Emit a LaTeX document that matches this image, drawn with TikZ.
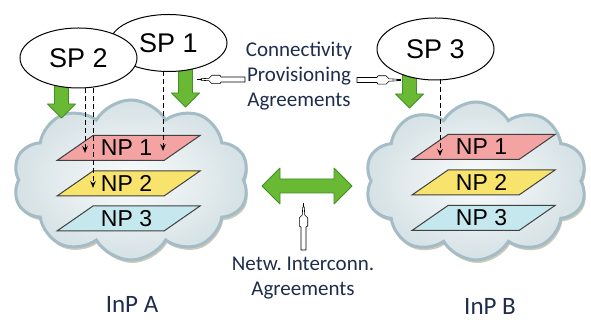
\documentclass[tikz,border=0pt]{standalone}
\usepackage{fontspec}
\newfontfamily\arialf{Liberation Sans}
\newfontfamily\calif{Carlito}
\usetikzlibrary{shapes.symbols,shapes.geometric,shadows,calc,arrows.meta}

\definecolor{npred}{HTML}{F4A3A3}
\definecolor{npyellow}{HTML}{F8E36C}
\definecolor{npblue}{HTML}{C5E8EE}
\definecolor{gfill}{HTML}{69B935}
\definecolor{gedge}{HTML}{3F8F22}
\definecolor{cloudrim}{HTML}{A3BCC6}
\definecolor{cloudin}{HTML}{FAFCFC}
\definecolor{cloudout}{HTML}{D5E1E5}
\definecolor{labeltext}{HTML}{1F2D4D}

\tikzset{
  cloudbox/.style={cloud, cloud puffs=10, cloud puff arc=120, cloud ignores aspect,
    inner sep=0pt, draw=cloudrim, line width=3pt,
    inner color=cloudin, outer color=cloudout,
    drop shadow={shadow xshift=1.5pt, shadow yshift=-3pt, fill=gray!70!olive, opacity=0.45}},
  spbox/.style={ellipse, draw=black, line width=1pt, fill=white, inner sep=0pt,
    minimum width=116pt, minimum height=58pt, font=\arialf\fontsize{27}{30}\selectfont},
  npline/.style={draw=black!75, line width=1pt},
  nplabel/.style={inner sep=0pt, font=\arialf\fontsize{23}{26}\selectfont},
  blocklook/.style={fill=gfill, draw=gedge, line width=0.8pt, line join=round},
  dasharrow/.style={line width=1pt, dash pattern=on 5pt off 3pt,
    -{Stealth[length=7pt,width=5.5pt]}},
  labelfont/.style={text=labeltext, align=center, inner sep=0pt,
    font=\calif\fontsize{21}{25}\selectfont},
  inpfont/.style={text=labeltext, inner sep=0pt, font=\calif\fontsize{25}{28}\selectfont},
  % green block arrow pointing along +x, tip at the origin
  pics/blockarrow/.style={code={
    \path[blocklook] (-#1,-7) -- (-14,-7) -- (-14,-14) -- (0,0) -- (-14,14)
      -- (-14,7) -- (-#1,7) -- cycle;}},
  % thin hollow arrow pointing along +x, tip at the origin
  pics/hollowarrow/.style={code={
    \path[draw=black, fill=white, line width=0.6pt, line join=round]
      (-#1,-2.5) -- (-24,-2.5) -- (-23,-4.2) -- (-15,-4.2) -- (-12,-1.2)
      -- (-4,-0.8) -- (-4,0.8) -- (-12,1.2) -- (-15,4.2) -- (-23,4.2)
      -- (-24,2.5) -- (-#1,2.5) -- cycle;
    \draw[line width=1.4pt] (-4.5,0) -- (0,0);}}
}

% parallelogram plane with its label: name, centre, fill colour, text
\newcommand\npplane[4]{%
  \coordinate (#1c) at #2;
  \draw[npline, fill=#3] ($(#1c)+(-71.5,12.5)$) -- ++(107,0) -- ++(36,-25)
    -- ++(-107,0) -- cycle;
  \node[nplabel] (#1) at ($(#1c)+(-2,0)$) {#4};
}

\begin{document}
\frenchspacing
\begin{tikzpicture}[x=1pt, y=-1pt]
\useasboundingbox[fill=white] (0,0) rectangle (591,320);

% infrastructure provider clouds
\node[cloudbox, minimum width=236pt, minimum height=160pt] (cloudA) at (131,180) {};
\node[cloudbox, minimum width=222pt, minimum height=158pt] (cloudB) at (476,181) {};

% network provider planes
\npplane{a1}{(128.5,148)}{npred}{NP 1}
\npplane{a2}{(128.5,183.5)}{npyellow}{NP 2}
\npplane{a3}{(128.5,218.5)}{npblue}{NP 3}
\npplane{b1}{(483.5,147)}{npred}{NP 1}
\npplane{b2}{(483.5,182.5)}{npyellow}{NP 2}
\npplane{b3}{(483.5,218)}{npblue}{NP 3}

% green provisioning arrows (tops hidden under the ellipses)
\coordinate (g2tip) at (61.5,118);
\coordinate (g1tip) at (185.5,107);
\coordinate (g3tip) at (409.5,108);
\pic[rotate=-90] at (g2tip) {blockarrow=40};
\pic[rotate=-90] at (g1tip) {blockarrow=42};
\pic[rotate=-90] at (g3tip) {blockarrow=34};

% service providers
\node[spbox, minimum width=117pt, minimum height=57pt] (sp1) at (168.5,43) {SP 1};
\node[spbox, minimum width=117pt, minimum height=60pt] (sp2) at (78.5,58) {SP 2};
\node[spbox, minimum width=117pt, minimum height=62pt] (sp3) at (435.5,49) {SP 3};

% virtual network requests
\coordinate (d1) at (85,153);
\coordinate (d2) at (93,188);
\coordinate (d3) at (163,151);
\coordinate (d4) at (440,156);
\draw[dasharrow] (sp2.south -| d1) -- (d1);
\draw[dasharrow] (sp2.south -| d2) -- (d2);
\draw[dasharrow] ($(sp1.south -| d3)+(0,-1)$) -- (d3);
\draw[dasharrow] ($(sp3.south -| d4)+(0,-1)$) -- (d4);

% interconnection between the infrastructure providers
\path[blocklook] (262,186) -- (280,168) -- (280,179) -- (334,179) -- (334,168)
  -- (352,186) -- (334,204) -- (334,193) -- (280,193) -- (280,204) -- cycle;

% labels
\node[labelfont] (cpa) at (299,76) {Connectivity\\Provisioning\\Agreements};
\node[labelfont] (nia) at (303,278) {Netw. Interconn.\\Agreements};
\node[inpfont] (inpA) at (132,304) {InP A};
\node[inpfont] (inpB) at (490,306) {InP B};

% pointers from the labels
\pic[rotate=180] at (197,79.5) {hollowarrow=48};
\pic at (401,80) {hollowarrow=44};
\pic[rotate=90] at (303.5,203) {hollowarrow=47};
\end{tikzpicture}
\end{document}
